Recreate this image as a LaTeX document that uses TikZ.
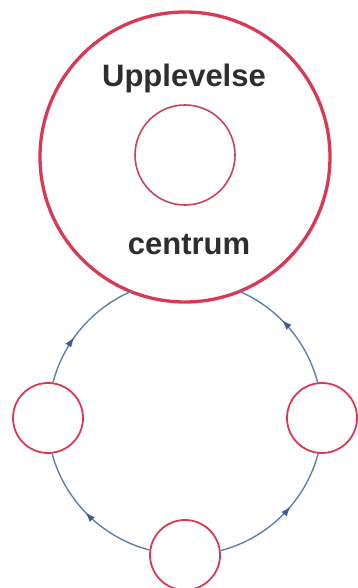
\documentclass[tikz,border=0pt]{standalone}
\usepackage{fontspec}
\setmainfont{Liberation Sans}
\usetikzlibrary{arrows.meta,decorations.markings}
\definecolor{ringred}{HTML}{D83A56}
\definecolor{innerred}{HTML}{C8435E}
\definecolor{flowblue}{HTML}{6080AC}
\definecolor{tipblue}{HTML}{3D5E94}
\definecolor{txtgray}{HTML}{2E2E2E}
\begin{document}
\begin{tikzpicture}[x=1pt,y=1pt,
  ring/.style={circle,draw=ringred,inner sep=0pt,fill=white},
  flow/.style={draw=flowblue,line width=1.4pt,postaction={decorate},
    decoration={markings,mark=at position #1 with {\arrow{Latex[length=10pt,width=7pt,color=tipblue]}}}},
  lbl/.style={font=\bfseries\fontsize{31}{31}\selectfont,text=txtgray,anchor=base,inner sep=0pt}]
\useasboundingbox (0,0) rectangle (358,588);
\fill[white] (0,0) rectangle (358,588);
\coordinate (cyc) at (185,170);
% nodes
\node[ring,line width=3.3pt,minimum size=290pt] (hub) at (185,431) {};
\node[ring,draw=innerred,line width=1.6pt,minimum size=100pt] (core) at (185,433) {};
\node[lbl] (t1) at (184,501) {Upplevelse};
\node[lbl] (t2) at (189,333) {centrum};
\node[ring,line width=1.8pt,minimum size=70pt] (left) at (48,170) {};
\node[ring,line width=1.8pt,minimum size=70pt] (right) at (322,170) {};
\node[ring,line width=1.8pt,minimum size=70pt] (bottom) at (185,33) {};
% connectors
\draw[flow=0.4] (left.82.6) arc[start angle=165.3,end angle=112.9,radius=137pt];
\draw[flow=0.58] (right.97.4) arc[start angle=14.7,end angle=67.1,radius=137pt];
\draw[flow=0.52] (bottom.172.6) arc[start angle=255.3,end angle=194.7,radius=137pt];
\draw[flow=0.58] (bottom.7.4) arc[start angle=284.7,end angle=345.3,radius=137pt];
\end{tikzpicture}
\end{document}
